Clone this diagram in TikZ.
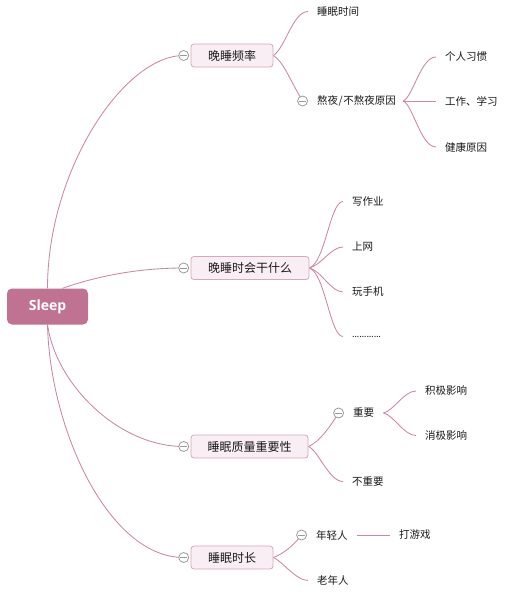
\documentclass[tikz,border=0pt]{standalone}
\usepackage{fontspec}
\setmainfont{Noto Sans CJK SC}
\newfontfamily\sleepfont{Open Sans}
\newfontfamily\latinfont{Liberation Sans}
\usetikzlibrary{backgrounds}
\definecolor{rootc}{HTML}{C07292}
\definecolor{linec}{HTML}{CC86A7}
\definecolor{boxfill}{HTML}{F9EEF3}
\definecolor{boxdraw}{HTML}{D9A6BD}
\definecolor{knob}{HTML}{9A9A9A}
\definecolor{txt}{HTML}{1A1A1A}
\begin{document}
\begin{tikzpicture}[x=1pt,y=1pt,
  rootbox/.style={fill=rootc, rounded corners=5pt, minimum width=81pt, minimum height=36pt, inner sep=0pt, text=white, font=\sleepfont\bfseries\fontsize{14}{16}\selectfont},
  mainbox/.style={draw=boxdraw, fill=boxfill, rounded corners=3pt, line width=0.8pt, minimum height=23pt, inner sep=0pt, text=txt, font=\fontsize{12}{14}\selectfont},
  leaf/.style={anchor=west, inner xsep=9pt, inner ysep=1pt, text=txt, font=\fontsize{10.5}{12}\selectfont},
  knobc/.style={circle, draw=knob, fill=white, line width=0.8pt, minimum size=10pt, inner sep=0pt, anchor=east,
    path picture={\draw[knob, line width=0.8pt] ([xshift=-3.5pt]path picture bounding box.center) -- ([xshift=3.5pt]path picture bounding box.center);}},
  link/.style={draw=linec, line width=0.85pt}
]
\useasboundingbox (0,0) rectangle (530,-601);
% root
\node[rootbox] (root) at (47.5,-306.5) {Sleep};
% main topics
\node[mainbox, minimum width=82pt] (b1) at (232,-55.5) {晚睡频率};
\node[mainbox, minimum width=118pt] (b2) at (250,-268) {晚睡时会干什么};
\node[mainbox, minimum width=117pt] (b3) at (249.5,-446.5) {睡眠质量重要性};
\node[mainbox, minimum width=82pt] (b4) at (232,-557.5) {睡眠时长};
\node[knobc] (k1) at ([xshift=-1.5pt]b1.west) {};
\node[knobc] (k2) at ([xshift=-1.5pt]b2.west) {};
\node[knobc] (k3) at ([xshift=-1.5pt]b3.west) {};
\node[knobc] (k4) at ([xshift=-1.5pt]b4.west) {};
% branch 1
\node[leaf] (l11) at (308,-11.5) {睡眠时间};
\node[leaf, text width=77pt, align=left] (l12) at (308,-101) {熬夜\kern0.5pt/\kern0.5pt不熬夜原因};
\node[knobc] (k12) at (l12.west) {};
\node[leaf] (l121) at (436,-57) {个人习惯};
\node[leaf] (l122) at (436,-101) {工作、学习};
\node[leaf] (l123) at (436,-147) {健康原因};
% branch 2
\node[leaf] (l21) at (343,-201.5) {写作业};
\node[leaf] (l22) at (343,-247) {上网};
\node[leaf] (l23) at (343,-292) {玩手机};
\node[leaf, font=\latinfont\bfseries\fontsize{7.2}{8}\selectfont] (l24) at (343,-336.5) {…………};
% branch 3
\node[leaf] (l31) at (344,-413) {重要};
\node[knobc] (k31) at (l31.west) {};
\node[leaf] (l311) at (416,-391) {积极影响};
\node[leaf] (l312) at (416,-435.5) {消极影响};
\node[leaf] (l32) at (343,-481.5) {不重要};
% branch 4
\node[leaf] (l41) at (307,-535) {年轻人};
\node[knobc] (k41) at (l41.west) {};
\node[leaf] (l411) at (390,-535) {打游戏};
\node[leaf] (l42) at (308,-580.5) {老年人};
% connectors
\begin{scope}[on background layer]
\fill[white] (0,0) rectangle (530,-601);
\draw[link] (root.north) .. controls +(0,118) and +(-60,0) .. (k1.center);
\draw[link] ([xshift=15pt]root.north) .. controls +(40,14) and +(-40,0) .. (k2.center);
\draw[link] (root.south) .. controls +(8.5,-60) and +(-65,0) .. (k3.center);
\draw[link] (root.south) .. controls +(2.5,-105) and +(-75,0) .. (k4.center);
\draw[link] (b1.east) .. controls +(12,8) and +(-15,0) .. (l11.west);
\draw[link] (b1.east) .. controls +(10,-6) and +(-12.5,20.5) .. (k12.center);
\draw[link] (l12.east) .. controls +(10,5.5) and +(-15,0) .. (l121.west);
\draw[link] (l12.east) -- (l122.west);
\draw[link] (l12.east) .. controls +(10,-5.5) and +(-15,0) .. (l123.west);
\draw[link] (b2.east) .. controls +(16,6) and +(-13,0) .. (l21.west);
\draw[link] (b2.east) .. controls +(12,3) and +(-12,0) .. (l22.west);
\draw[link] (b2.east) .. controls +(12,-3) and +(-12,0) .. (l23.west);
\draw[link] (b2.east) .. controls +(16,-6) and +(-13,0) .. (l24.west);
\draw[link] (b3.east) .. controls +(10,4) and +(-10,-16) .. (k31.center);
\draw[link] (b3.east) .. controls +(10,-4) and +(-14,0) .. (l32.west);
\draw[link] (l31.east) .. controls +(10,2) and +(-12,0) .. (l311.west);
\draw[link] (l31.east) .. controls +(10,-2) and +(-12,0) .. (l312.west);
\draw[link] (b4.east) .. controls +(8,3) and +(-9,-12) .. (k41.center);
\draw[link] (b4.east) .. controls +(8,-3) and +(-12,0) .. (l42.west);
\draw[link] (l41.east) -- (l411.west);
\end{scope}
\end{tikzpicture}
\end{document}
